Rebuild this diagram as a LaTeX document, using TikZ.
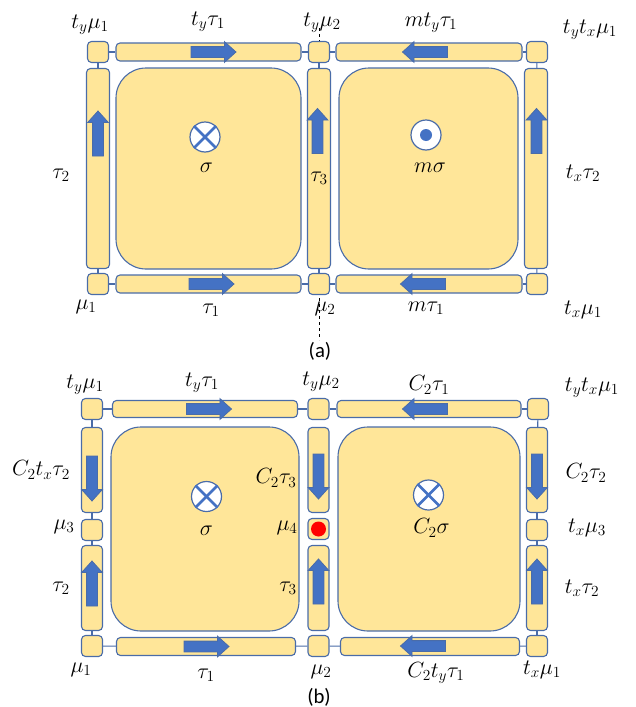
\RequirePackage{fix-cm}
\documentclass[tikz,border=0pt]{standalone}
\usepackage{amsmath}
\usepackage{fontspec}
\setsansfont{Carlito}
\usetikzlibrary{shapes.arrows}
\definecolor{gold}{HTML}{FFE699}
\definecolor{edge}{HTML}{4A6CA8}
\definecolor{arrowblue}{HTML}{4472C4}
\definecolor{dotred}{HTML}{FF0000}
\tikzset{
  tile/.style={draw=edge, fill=gold, rounded corners=4pt, line width=1.1pt, minimum width=21pt, minimum height=21pt, inner sep=0pt},
  hbar/.style={draw=edge, fill=gold, rounded corners=4pt, line width=1.1pt, minimum height=18pt, inner sep=0pt},
  vbar/.style={draw=edge, fill=gold, rounded corners=4pt, line width=1.1pt, minimum width=23pt, inner sep=0pt},
  cell/.style={draw=edge, fill=gold, rounded corners=30pt, line width=1.1pt, inner sep=0pt},
  link/.style={draw=edge, line width=1.1pt},
  flux/.style={single arrow, draw=edge, fill=arrowblue, line width=0.8pt, inner xsep=0pt, inner ysep=5pt, minimum height=45pt, single arrow head extend=5pt, single arrow tip angle=84},
  flux right/.style={flux},
  flux left/.style={flux, rotate=180},
  flux up/.style={flux, rotate=90},
  flux down/.style={flux, rotate=-90},
  spin/.style={circle, draw=edge, fill=white, line width=1.2pt, minimum size=30pt, inner sep=0pt},
  cross/.style={draw=arrowblue, line width=2.6pt},
  lab/.style={font=\fontsize{22}{26}\selectfont, inner sep=0pt},
  caption/.style={font=\sffamily\huge, inner sep=0pt}
}
\begin{document}
\begin{tikzpicture}[x=1pt, y=-1pt]
\useasboundingbox (0,0) rectangle (635,707);

% ---------- (a) ----------
\coordinate (a-cut top) at (319,28);
\coordinate (a-cut bot) at (319,340);
\draw[dashed, line width=0.8pt] (a-cut top) -- (a-cut bot);

\node[tile] (a-nw) at (98,52) {};
\node[tile] (a-n) at (319,52) {};
\node[tile] (a-ne) at (537,52) {};
\node[tile] (a-sw) at (98,284) {};
\node[tile] (a-s) at (319,284) {};
\node[tile] (a-se) at (537,284) {};
\node[hbar, minimum width=185pt] (a-top1) at (208.5,52) {};
\node[hbar, minimum width=186pt] (a-top2) at (429,52) {};
\node[hbar, minimum width=185pt] (a-bot1) at (208.5,284) {};
\node[hbar, minimum width=186pt] (a-bot2) at (429,284) {};
\node[vbar, minimum height=200pt] (a-left) at (98,168.5) {};
\node[vbar, minimum height=200pt] (a-mid) at (319,168.5) {};
\node[vbar, minimum height=200pt] (a-right) at (536,168.5) {};
\node[cell, minimum width=185pt, minimum height=201pt] (a-cell1) at (208.5,168.5) {};
\node[cell, minimum width=179pt, minimum height=201pt] (a-cell2) at (428.5,168.5) {};

\draw[link] (a-nw) -- (a-top1);
\draw[link] (a-top1) -- (a-n);
\draw[link] (a-n) -- (a-top2);
\draw[link] (a-top2) -- (a-ne);
\draw[link] (a-sw) -- (a-bot1);
\draw[link] (a-bot1) -- (a-s);
\draw[link] (a-s) -- (a-bot2);
\draw[link] (a-bot2) -- (a-se);
\draw[link] (a-nw) -- (a-left);
\draw[link] (a-left) -- (a-sw);
\draw[link] (a-n) -- (a-mid);
\draw[link] (a-mid) -- (a-s);
\draw[link] (a-ne) -- (a-right);
\draw[link] (a-right) -- (a-se);

\node[flux right] (a-f1) at (210.5,52) {};
\node[flux left] (a-f2) at (428,52) {};
\node[flux right] (a-f3) at (208.5,284) {};
\node[flux left] (a-f4) at (426,284) {};
\node[flux up] (a-f5) at (98,136.5) {};
\node[flux up] (a-f6) at (317.5,134) {};
\node[flux up] (a-f7) at (536.5,134) {};

\node[spin] (a-in) at (205,137) {};
\draw[cross] (a-in.45) -- (a-in.225);
\draw[cross] (a-in.135) -- (a-in.315);
\node[spin] (a-out) at (426,135) {};
\node[circle, fill=arrowblue, minimum size=12pt, inner sep=0pt] (a-dot) at (a-out.center) {};

\node[lab] (a-l1) at (90,25) {$t_y\mu_1$};
\node[lab] (a-l2) at (208,22) {$t_y\tau_1$};
\node[lab] (a-l3) at (322,23) {$t_y\mu_2$};
\node[lab] (a-l4) at (431,23) {$mt_y\tau_1$};
\node[lab] (a-l5) at (590,30) {$t_yt_x\mu_1$};
\node[lab] (a-l6) at (61,175) {$\tau_2$};
\node[lab] (a-l7) at (319,178) {$\tau_3$};
\node[lab] (a-l8) at (583,173) {$t_x\tau_2$};
\node[lab] (a-l9) at (206.5,168) {$\sigma$};
\node[lab] (a-l10) at (430,168) {$m\sigma$};
\node[lab] (a-l11) at (86,307) {$\mu_1$};
\node[lab] (a-l12) at (211,310) {$\tau_1$};
\node[lab] (a-l13) at (325,309) {$\mu_2$};
\node[lab] (a-l14) at (426,308) {$m\tau_1$};
\node[lab] (a-l15) at (583,310) {$t_x\mu_1$};
\node[caption] (a-cap) at (320,351) {(a)};

% ---------- (b) ----------
\node[tile] (b-nw) at (92,409) {};
\node[tile] (b-n) at (318.5,409) {};
\node[tile] (b-ne) at (538,409) {};
\node[tile] (b-w) at (92,530) {};
\node[tile] (b-c) at (318.5,529) {};
\node[tile] (b-e) at (537,530) {};
\node[tile] (b-sw) at (92,646) {};
\node[tile] (b-s) at (318.5,646) {};
\node[tile] (b-se) at (537,646) {};
\node[hbar, minimum height=17pt, minimum width=185pt] (b-top1) at (205,409) {};
\node[hbar, minimum height=17pt, minimum width=184pt] (b-top2) at (429,409) {};
\node[hbar, minimum height=18pt, minimum width=179pt] (b-bot1) at (206,646.5) {};
\node[hbar, minimum height=18pt, minimum width=179pt] (b-bot2) at (430,646.5) {};
\node[vbar, minimum width=21pt, minimum height=85pt] (b-left1) at (92,470) {};
\node[vbar, minimum width=21pt, minimum height=85pt] (b-left2) at (92,588) {};
\node[vbar, minimum width=21pt, minimum height=85pt] (b-mid1) at (318.5,470) {};
\node[vbar, minimum width=21pt, minimum height=85pt] (b-mid2) at (318.5,588) {};
\node[vbar, minimum width=21pt, minimum height=85pt] (b-right1) at (537,470) {};
\node[vbar, minimum width=21pt, minimum height=85pt] (b-right2) at (537,588) {};
\node[cell, minimum width=188pt, minimum height=204pt] (b-cell1) at (205,529) {};
\node[cell, minimum width=182pt, minimum height=204pt] (b-cell2) at (429,529) {};

\draw[link] (b-nw) -- (b-top1);
\draw[link] (b-top1) -- (b-n);
\draw[link] (b-n) -- (b-top2);
\draw[link] (b-top2) -- (b-ne);
\draw[link] (b-sw) -- (b-bot1);
\draw[link] (b-bot1) -- (b-s);
\draw[link] (b-s) -- (b-bot2);
\draw[link] (b-bot2) -- (b-se);
\draw[link] (b-nw) -- (b-left1);
\draw[link] (b-left1) -- (b-w);
\draw[link] (b-w) -- (b-left2);
\draw[link] (b-left2) -- (b-sw);
\draw[link] (b-ne) -- (b-right1);
\draw[link] (b-right1) -- (b-e);
\draw[link] (b-e) -- (b-right2);
\draw[link] (b-right2) -- (b-se);

\node[flux right] (b-f1) at (206,409) {};
\node[flux left] (b-f2) at (428,409) {};
\node[flux right] (b-f3) at (203.5,646.5) {};
\node[flux left] (b-f4) at (426,646) {};
\node[flux down] (b-f5) at (92,475.5) {};
\node[flux down] (b-f6) at (318.5,473.5) {};
\node[flux down] (b-f7) at (537,473.5) {};
\node[flux up] (b-f8) at (92,586.5) {};
\node[flux up] (b-f9) at (318.5,584.5) {};
\node[flux up] (b-f10) at (537,584.5) {};

\node[circle, fill=dotred, minimum size=15pt, inner sep=0pt] (b-dot) at (b-c.center) {};
\node[spin] (b-in1) at (206.5,496.5) {};
\draw[cross] (b-in1.45) -- (b-in1.225);
\draw[cross] (b-in1.135) -- (b-in1.315);
\node[spin] (b-in2) at (428.5,495) {};
\draw[cross] (b-in2.45) -- (b-in2.225);
\draw[cross] (b-in2.135) -- (b-in2.315);

\node[lab] (b-l1) at (85,385) {$t_y\mu_1$};
\node[lab] (b-l2) at (202,383) {$t_y\tau_1$};
\node[lab] (b-l3) at (321,382) {$t_y\mu_2$};
\node[lab] (b-l4) at (429,385) {$C_2\tau_1$};
\node[lab] (b-l5) at (592,388) {$t_yt_x\mu_1$};
\node[lab] (b-l6) at (41,470) {$C_2t_x\tau_2$};
\node[lab] (b-l7) at (64,527) {$\mu_3$};
\node[lab] (b-l8) at (61,588) {$\tau_2$};
\node[lab] (b-l9) at (276,478) {$C_2\tau_3$};
\node[lab] (b-l10) at (287,528) {$\mu_4$};
\node[lab] (b-l11) at (288,588) {$\tau_3$};
\node[lab] (b-l12) at (586,473) {$C_2\tau_2$};
\node[lab] (b-l13) at (587,528) {$t_x\mu_3$};
\node[lab] (b-l14) at (582,588) {$t_x\tau_2$};
\node[lab] (b-l15) at (206.5,531) {$\sigma$};
\node[lab] (b-l16) at (431.5,528) {$C_2\sigma$};
\node[lab] (b-l17) at (81,670) {$\mu_1$};
\node[lab] (b-l18) at (206,675) {$\tau_1$};
\node[lab] (b-l19) at (321,672) {$\mu_2$};
\node[lab] (b-l20) at (436,673) {$C_2t_y\tau_1$};
\node[lab] (b-l21) at (542,670) {$t_x\mu_1$};
\node[caption] (b-cap) at (319,697) {(b)};
\end{tikzpicture}
\end{document}
